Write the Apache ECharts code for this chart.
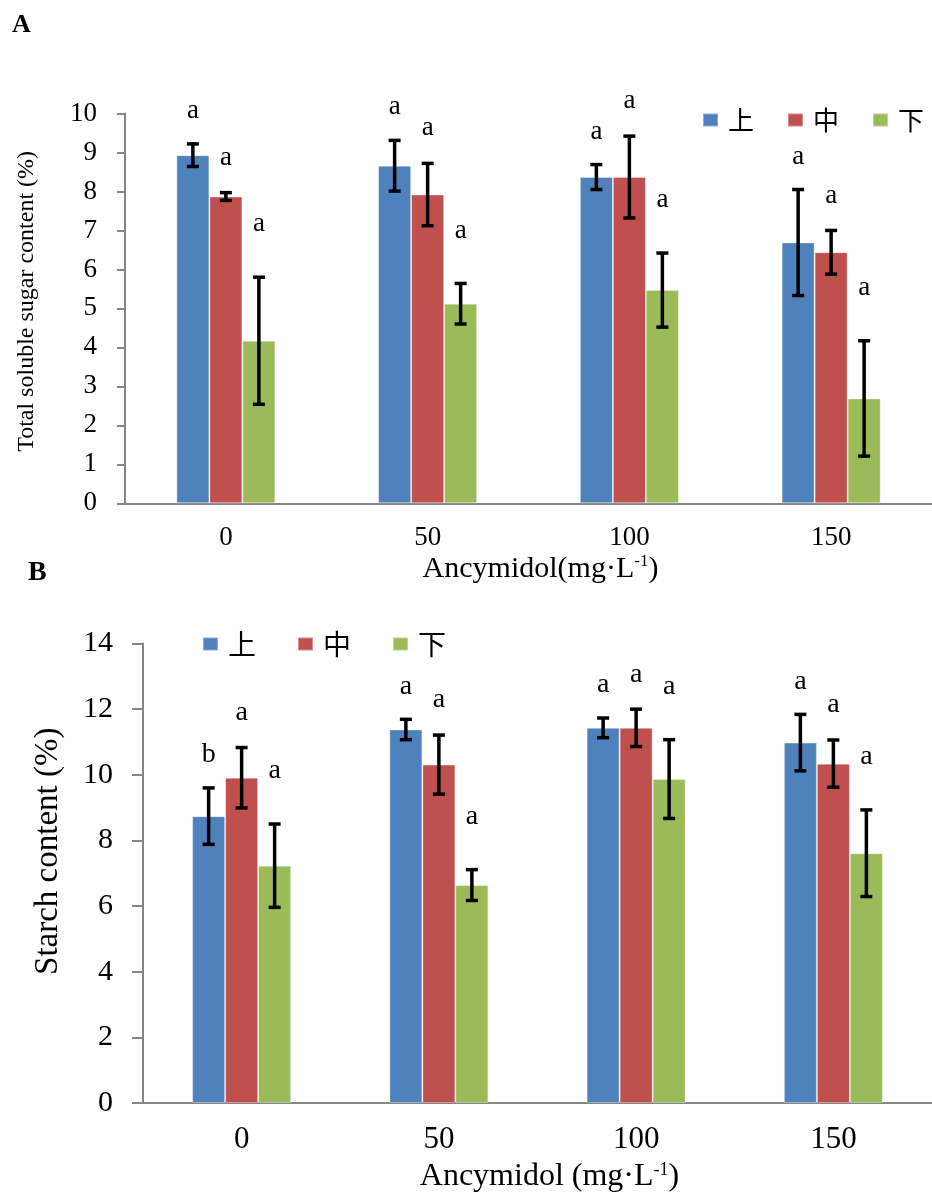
<!DOCTYPE html>
<html>
<head>
<meta charset="utf-8">
<script src="https://cdn.jsdelivr.net/npm/echarts@6/dist/echarts.min.js"></script>
<style>html,body{margin:0;padding:0;background:#fff}#c{width:932px;height:1195px}</style>
</head>
<body>
<div id="c"></div>
<script>
// ---------- data ----------
const categories = ['0', '50', '100', '150'];
const seriesNames = ['上', '中', '下'];

// Panel A: total soluble sugar content (%)
const sugarTop = [8.93, 8.66, 8.37, 6.69];
const sugarTopErr = [0.29, 0.65, 0.32, 1.36];
const sugarMid = [7.87, 7.92, 8.37, 6.44];
const sugarMidErr = [0.10, 0.80, 1.05, 0.56];
const sugarLow = [4.17, 5.12, 5.47, 2.69];
const sugarLowErr = [1.63, 0.52, 0.95, 1.48];
const sugarTopLetters = ['a', 'a', 'a', 'a'];
const sugarMidLetters = ['a', 'a', 'a', 'a'];
const sugarLowLetters = ['a', 'a', 'a', 'a'];

// Panel B: starch content (%)
const starchTop = [8.74, 11.38, 11.43, 10.98];
const starchTopErr = [0.86, 0.31, 0.30, 0.86];
const starchMid = [9.91, 10.31, 11.43, 10.34];
const starchMidErr = [0.92, 0.90, 0.57, 0.72];
const starchLow = [7.23, 6.64, 9.87, 7.61];
const starchLowErr = [1.27, 0.47, 1.20, 1.32];
const starchTopLetters = ['b', 'a', 'a', 'a'];
const starchMidLetters = ['a', 'a', 'a', 'a'];
const starchLowLetters = ['a', 'a', 'a', 'a'];

// ---------- style ----------
const colors = ['#4F81BD', '#C0504D', '#9BBB59'];
const BAR_W = 33;
const AXIS_COLOR = '#868686';
const SERIF = 'Liberation Serif, Times New Roman, serif';
const CJK = 'Noto Sans CJK SC';
const letterGap = [33, 35, 53];

function barSeries(k, grid, vals) {
  return {
    type: 'bar', name: seriesNames[k], xAxisIndex: grid, yAxisIndex: grid,
    data: vals, barWidth: BAR_W, barGap: '0%',
    itemStyle: { color: colors[k], borderColor: 'rgba(255,255,255,0.35)', borderWidth: 1 },
    emphasis: { disabled: true }, z: 2
  };
}

function errSeries(k, grid, vals, errs, letters, fs) {
  return {
    type: 'custom', xAxisIndex: grid, yAxisIndex: grid, silent: true, z: 10,
    data: vals.map((v, i) => [i, v, errs[i]]),
    encode: { x: 0, y: 1 },
    renderItem: function (params, api) {
      const i = api.value(0), v = api.value(1), e = api.value(2);
      const c = api.coord([i, v]);
      const x = c[0] + (k - 1) * BAR_W;
      const yT = api.coord([i, v + e])[1];
      const yB = api.coord([i, v - e])[1];
      const h = 6;
      const ls = { stroke: '#000', lineWidth: 3.5 };
      return {
        type: 'group', children: [
          { type: 'line', shape: { x1: x, y1: yT, x2: x, y2: yB }, style: ls },
          { type: 'line', shape: { x1: x - h, y1: yT, x2: x + h, y2: yT }, style: ls },
          { type: 'line', shape: { x1: x - h, y1: yB, x2: x + h, y2: yB }, style: ls },
          { type: 'text', x: x, y: yT - letterGap[k],
            style: { text: letters[params.dataIndex], fill: '#000', font: fs + 'px ' + SERIF,
                     textAlign: 'center', textVerticalAlign: 'middle' } }
        ]
      };
    }
  };
}

function xAxisCfg(grid, labelSize, nameSize, nameGap, nameText, margin) {
  return {
    type: 'category', gridIndex: grid, data: categories,
    axisLine: { show: true, lineStyle: { color: AXIS_COLOR, width: 2 } },
    axisTick: { show: false },
    axisLabel: { color: '#000', fontFamily: SERIF, fontSize: labelSize, margin: margin },
    name: nameText, nameLocation: 'middle', nameGap: nameGap,
    nameTextStyle: {
      color: '#000', fontFamily: SERIF, fontSize: nameSize, padding: [0, 0, 0, 24],
      rich: {
        n: { fontFamily: SERIF, fontSize: nameSize, color: '#000' },
        s: { fontFamily: SERIF, fontSize: Math.round(nameSize * 0.55), color: '#000', verticalAlign: 'top', padding: [0, 0, Math.round(nameSize * 0.45), 0] }
      }
    }
  };
}

function yAxisCfg(grid, max, interval, labelSize, margin, tickLen, nameText, nameSize, nameGap, shiftUp) {
  return {
    type: 'value', gridIndex: grid, min: 0, max: max, interval: interval,
    axisLine: { show: true, lineStyle: { color: AXIS_COLOR, width: 2 } },
    axisTick: { show: true, length: tickLen, lineStyle: { color: AXIS_COLOR, width: 2 } },
    splitLine: { show: false },
    axisLabel: { color: '#000', fontFamily: SERIF, fontSize: labelSize, margin: margin },
    name: nameText, nameLocation: 'middle', nameGap: nameGap,
    nameTextStyle: { color: '#000', fontFamily: SERIF, fontSize: nameSize, padding: [0, 0, 0, shiftUp * 2] }
  };
}

const chart = echarts.init(document.getElementById('c'), null, { renderer: 'canvas' });
chart.setOption({
  backgroundColor: '#fff',
  animation: false,
  grid: [
    { left: 125, top: 113.5, right: -2, bottom: 691.7, containLabel: false },
    { left: 143, top: 643.5, right: -10, bottom: 92, containLabel: false }
  ],
  legend: [
    { data: seriesNames, left: 702, top: 107, width: 300, padding: 0, orient: 'horizontal',
      itemWidth: 15, itemHeight: 13, itemGap: 33, icon: 'rect',
      selectedMode: false, textStyle: { fontFamily: CJK, fontSize: 26, color: '#000', padding: [0, 0, 0, 5] } },
    { data: seriesNames, left: 202, top: 630, width: 400, padding: 0, orient: 'horizontal',
      itemWidth: 15, itemHeight: 13, itemGap: 41, icon: 'rect',
      selectedMode: false, textStyle: { fontFamily: CJK, fontSize: 28, color: '#000', padding: [0, 0, 0, 5] } }
  ],
  xAxis: [
    xAxisCfg(0, 27, 30, 50, '{n|Ancymidol(mg·L}{s|-1}{n|)}', 21),
    xAxisCfg(1, 31, 32, 58, '{n|Ancymidol (mg·L}{s|-1}{n|)}', 21)
  ],
  yAxis: [
    yAxisCfg(0, 10, 1, 27, 28, 8, 'Total soluble sugar content (%)', 24, 86, 7),
    yAxisCfg(1, 14, 2, 30, 30, 11, 'Starch content (%)', 33, 78, 22)
  ],
  graphic: [
    { type: 'text', left: 12, top: 12, style: { text: 'A', font: 'bold 26px ' + SERIF, fill: '#000' } },
    { type: 'text', left: 28, top: 559, style: { text: 'B', font: 'bold 28px ' + SERIF, fill: '#000' } }
  ],
  series: [
    barSeries(0, 0, sugarTop), barSeries(1, 0, sugarMid), barSeries(2, 0, sugarLow),
    barSeries(0, 1, starchTop), barSeries(1, 1, starchMid), barSeries(2, 1, starchLow),
    errSeries(0, 0, sugarTop, sugarTopErr, sugarTopLetters, 27),
    errSeries(1, 0, sugarMid, sugarMidErr, sugarMidLetters, 27),
    errSeries(2, 0, sugarLow, sugarLowErr, sugarLowLetters, 27),
    errSeries(0, 1, starchTop, starchTopErr, starchTopLetters, 28),
    errSeries(1, 1, starchMid, starchMidErr, starchMidLetters, 28),
    errSeries(2, 1, starchLow, starchLowErr, starchLowLetters, 28)
  ]
});
</script>
</body>
</html>
